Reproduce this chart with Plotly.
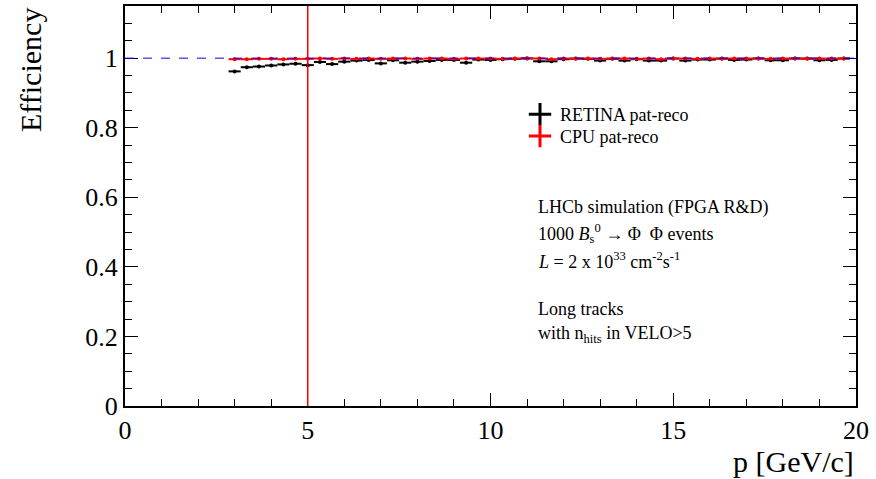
import plotly.graph_objects as go

# ---- data ----
bin_centers = [3.0 + k / 3 for k in range(51)]
bin_half_width = [1 / 6] * 51
retina_eff = [0.962, 0.974, 0.976, 0.979, 0.982, 0.984, 0.980, 0.989, 0.983, 0.990,
              0.993, 0.995, 0.985, 0.994, 0.987, 0.990, 0.992, 0.995, 0.995, 0.987,
              0.996, 0.995, 0.997, 0.998, 0.999, 0.991, 0.991, 0.997, 0.999, 0.998,
              0.993, 0.998, 0.993, 0.997, 0.993, 0.993, 0.999, 0.993, 0.996, 0.996,
              0.999, 0.995, 0.996, 0.999, 0.994, 0.994, 0.999, 0.999, 0.994, 0.995,
              0.999]
cpu_eff = [0.997, 0.997, 0.998, 0.998, 0.997, 0.998, 0.998, 0.999, 0.998, 0.999,
           0.998, 0.999, 0.998, 0.999, 0.999, 0.998, 0.999, 0.999, 0.998, 0.999,
           0.999, 0.999, 0.998, 0.999, 1.000, 0.999, 0.997, 0.999, 0.998, 0.999,
           0.998, 0.999, 0.999, 0.998, 0.999, 0.997, 0.999, 0.999, 0.998, 0.999,
           0.998, 0.999, 0.999, 0.999, 0.998, 0.999, 0.999, 0.998, 0.999, 0.999,
           0.999]
retina_err = [0.003] * 51
cpu_err = [0.0015] * 51

FONT = "Liberation Serif"

fig = go.Figure()

fig.add_trace(go.Scatter(
    x=bin_centers, y=retina_eff, mode="markers",
    marker=dict(color="black", size=4),
    error_x=dict(type="data", array=bin_half_width, color="black", thickness=2, width=0),
    error_y=dict(type="data", array=retina_err, color="black", thickness=2, width=0),
    showlegend=False))
fig.add_trace(go.Scatter(
    x=bin_centers, y=cpu_eff, mode="markers",
    marker=dict(color="red", size=4),
    error_x=dict(type="data", array=bin_half_width, color="red", thickness=2, width=0),
    error_y=dict(type="data", array=cpu_err, color="red", thickness=2, width=0),
    showlegend=False))

# legend entries
fig.add_trace(go.Scatter(x=[None], y=[None], mode="markers", name="RETINA pat-reco",
                         legend="legend",
                         marker=dict(symbol="cross-thin", size=16, line=dict(color="black", width=3))))
fig.add_trace(go.Scatter(x=[None], y=[None], mode="markers", name="CPU pat-reco",
                         legend="legend2",
                         marker=dict(symbol="cross-thin", size=16, line=dict(color="red", width=3))))

fig.add_shape(type="line", xref="x", yref="y", x0=0, x1=20, y0=1, y1=1,
              line=dict(color="blue", width=1, dash="dash"), layer="above")
fig.add_shape(type="line", xref="x", yref="paper", x0=5, x1=5, y0=0, y1=1,
              line=dict(color="red", width=1.5), layer="above")

text_lines = [
    ("LHCb simulation (FPGA R&amp;D)", 207),
    ("1000 <i>B</i><sub>s</sub><sup>0</sup> → Φ  Φ events", 233),
    ("<i>L</i> = 2 x 10<sup>33</sup> cm<sup>-2</sup>s<sup>-1</sup>", 260),
    ("Long tracks", 309),
    ("with n<sub>hits</sub> in VELO&gt;5", 334),
]
for txt, ypix in text_lines:
    fig.add_annotation(text=txt, xref="paper", yref="paper",
                       x=(536 - 125) / 731, y=(406 - ypix) / 402,
                       xanchor="left", yanchor="middle", showarrow=False,
                       font=dict(family=FONT, size=18, color="black"))

fig.add_annotation(text="Efficiency", xref="paper", yref="paper",
                   x=(30 - 125) / 731, y=(406 - 4) / 402, textangle=-90,
                   xanchor="center", yanchor="top", showarrow=False,
                   font=dict(family=FONT, size=30, color="black"))
fig.add_annotation(text="p [GeV/c]", xref="paper", yref="paper",
                   x=1.0, y=(406 - 462) / 402,
                   xanchor="right", yanchor="middle", showarrow=False,
                   font=dict(family=FONT, size=30, color="black"))

legend_common = dict(xanchor="left", yanchor="middle", bgcolor="rgba(0,0,0,0)",
                     font=dict(family=FONT, size=18, color="black"))

fig.update_layout(
    width=876, height=479,
    margin=dict(l=125, r=20, t=4, b=73),
    paper_bgcolor="white", plot_bgcolor="white",
    font=dict(family=FONT, color="black"),
    showlegend=True,
    legend=dict(x=(520 - 125) / 731, y=(406 - 113) / 402, **legend_common),
    legend2=dict(x=(520 - 125) / 731, y=(406 - 135) / 402, **legend_common),
    xaxis=dict(range=[0, 20], showgrid=False, zeroline=False,
               showline=True, linecolor="black", linewidth=2, mirror="ticks",
               ticks="inside", ticklen=13, tickwidth=1, tickcolor="black",
               tick0=0, dtick=5, tickfont=dict(family=FONT, size=26),
               minor=dict(ticks="inside", ticklen=7, dtick=1, tickcolor="black", showgrid=False)),
    yaxis=dict(range=[0, 1.15], showgrid=False, zeroline=False,
               showline=True, linecolor="black", linewidth=2, mirror="ticks",
               ticks="inside", ticklen=13, tickwidth=1, tickcolor="black",
               tickvals=[0, 0.2, 0.4, 0.6, 0.8, 1],
               ticktext=["0", "0.2", "0.4", "0.6", "0.8", "1"],
               tickfont=dict(family=FONT, size=26),
               minor=dict(ticks="inside", ticklen=7, dtick=0.05, tick0=0, tickcolor="black", showgrid=False)),
)

fig.write_html("out.html", config={"displayModeBar": False},
               post_script="document.body.style.margin='0';")
